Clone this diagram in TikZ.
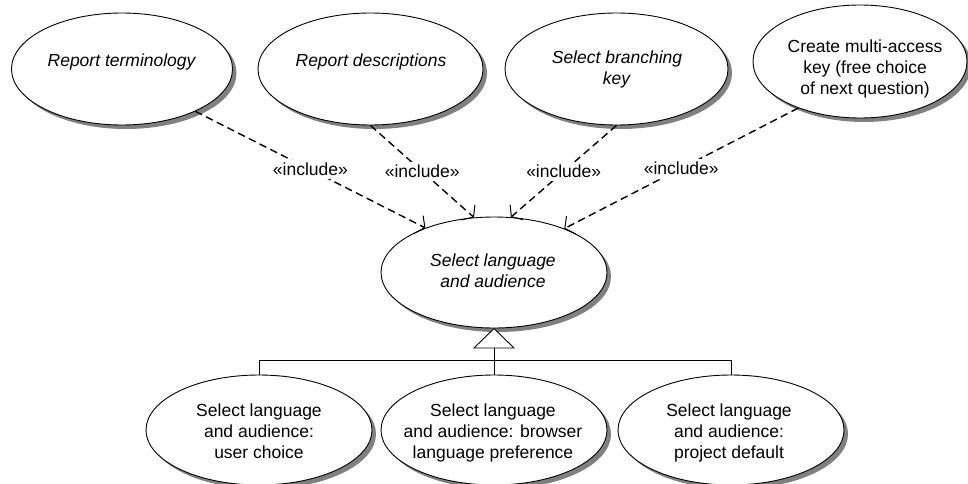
\documentclass[tikz,border=0pt]{standalone}
\usepackage{fontspec}
\setmainfont{Liberation Sans}
\usetikzlibrary{shapes.geometric,arrows.meta}
\begin{document}
\begin{tikzpicture}[x=1pt,y=-1pt,
  uc/.style={ellipse,draw=black,line width=0.9pt,fill=white,inner sep=0pt,
    minimum width=224pt,minimum height=112pt},
  shd/.style={ellipse,fill=black!50,draw=none,inner sep=0pt,
    minimum width=224pt,minimum height=112pt},
  txt/.style={anchor=base,align=center,inner sep=0pt,font=\fontsize{17.5}{21}\selectfont},
  inc/.style={draw,line width=1.4pt,dash pattern=on 7.5pt off 4.5pt,
    -{Straight Barb[length=7pt,width=20pt,line width=1pt]}},
  lbl/.style={fill=white,inner sep=3pt,font=\fontsize{17.5}{21}\selectfont},
  gen/.style={draw,line width=0.9pt}
]
\useasboundingbox (0,0) rectangle (968,484);

% shadows
\node[shd,minimum width=221pt] (rts) at (126,73) {};
\node[shd,minimum width=225pt] (rds) at (374.5,73) {};
\node[shd,minimum width=223pt] (sbs) at (620.5,73) {};
\node[shd,minimum width=214pt,minimum height=113pt] (cms) at (864,65.5) {};
\node[shd,minimum width=226pt,minimum height=111pt] (sls) at (498,276.5) {};
\node[shd,minimum width=226pt,minimum height=110pt] (b1s) at (263,434) {};
\node[shd,minimum width=226pt,minimum height=110pt] (b2s) at (498,434) {};
\node[shd,minimum width=226pt,minimum height=110pt] (b3s) at (735,434) {};

% top row
\node[uc,minimum width=221pt] (rt) at (122,69) {};
\node[txt] (trt) at (122,67) {\textit{Report terminology}};
\node[uc,minimum width=225pt] (rd) at (370.5,69) {};
\node[txt] (trd) at (371,67) {\textit{Report descriptions}};
\node[uc,minimum width=223pt] (sb) at (616.5,69) {};
\node[txt] (tsb) at (617,85) {\textit{Select branching}\\\textit{key}};
\node[uc,minimum width=214pt,minimum height=113pt] (cm) at (860,61.5) {};
\node[txt] (tcm) at (865,95) {Create multi-access\\key (free choice\\of next question)};

% centre
\node[uc,minimum width=226pt,minimum height=111pt] (sl) at (494,272.5) {};
\node[txt] (tsl) at (493,287) {\textit{Select language}\\\textit{and audience}};

% bottom row
\node[uc,minimum width=226pt,minimum height=110pt] (b1) at (259,430) {};
\node[txt] (tb1) at (259,458) {Select language\\and audience:\\user choice};
\node[uc,minimum width=226pt,minimum height=110pt] (b2) at (494,430) {};
\node[txt] (tb2) at (493,458) {Select language\\and audience: browser\\language preference};
\node[uc,minimum width=226pt,minimum height=110pt] (b3) at (731,430) {};
\node[txt] (tb3) at (729,458) {Select language\\and audience:\\project default};

% include relations
\draw[inc] (rt.-30.5) -- node[lbl] {«include»} (sl.147.6);
\draw[inc] (rd.south) -- node[lbl] {«include»} (sl.110);
\draw[inc] (sb.south) -- node[lbl] {«include»} (sl.73.8);
\draw[inc] (cm.217.6) -- node[lbl] {«include»} (sl.32.4);

% generalization
\coordinate (bar) at (494,360);
\coordinate (tb) at (494,348);
\draw[gen] (tb) -- (b2.north);
\draw[gen] (b1.north) -- (b1.north |- bar) -- (b3.north |- bar) -- (b3.north);
\draw[gen,fill=white] (sl.south) -- (474,348) -- (514,348) -- cycle;
\end{tikzpicture}
\end{document}
